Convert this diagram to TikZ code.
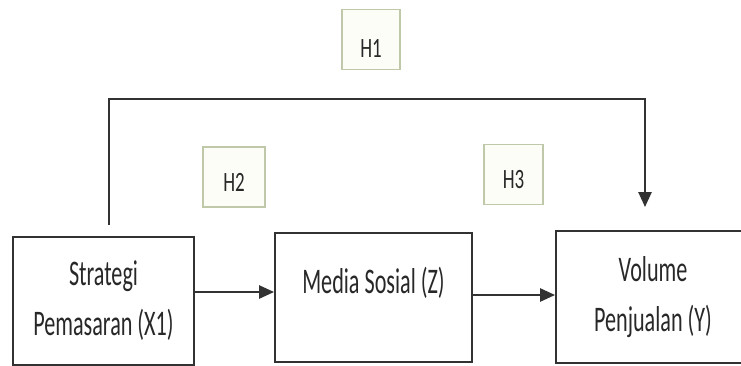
\documentclass[tikz,border=0pt]{standalone}
\usepackage{fontspec}
\usetikzlibrary{arrows.meta}
\newfontfamily\boxfont[FakeStretch=0.615]{Carlito}
\newfontfamily\hypfont[FakeStretch=0.68]{Carlito}
\definecolor{hypline}{RGB}{192,200,170}
\definecolor{hypfill}{RGB}{253,253,248}
\definecolor{inktext}{RGB}{40,40,40}
\definecolor{inkline}{RGB}{50,50,50}

\begin{document}
\begin{tikzpicture}[
    varbox/.style={draw=inkline, line width=1.1pt, minimum width=3.62cm, minimum height=2.56cm, align=center, text=inktext, font=\boxfont\fontsize{20.5}{28.5}\selectfont},
    hypbox/.style={draw=hypline, fill=hypfill, line width=0.8pt, minimum width=1.18cm, minimum height=1.2cm, inner sep=0pt, text=inktext, font=\hypfont\fontsize{15.9}{18}\selectfont},
    link/.style={draw=inkline, line width=1.1pt, -{Triangle[length=8.5pt, width=7.5pt]}}
]
    \useasboundingbox (0,0) rectangle (14.82,7.30);

    % Variables
    \node[varbox] (x1) at (2.07,1.28) {Strategi\\Pemasaran (X1)};
    \node[varbox, minimum width=3.94cm, minimum height=2.58cm, text depth=0.67cm] (z) at (7.47,1.35) {Media Sosial (Z)};
    \node[varbox, minimum width=3.88cm, minimum height=2.64cm] (y) at (13.06,1.36) {Volume\\Penjualan (Y)};

    % Hypotheses
    \node[hypbox, minimum width=1.16cm, text height=0.72cm, text depth=0pt] (h1) at (7.42,6.51) {H1};
    \node[hypbox, minimum width=1.24cm, text height=0.56cm, text depth=0pt] (h2) at (4.68,3.76) {H2};
    \node[hypbox, text height=0.56cm, text depth=0pt] (h3) at (10.27,3.81) {H3};

    % Paths
    \coordinate (x1top) at (2.18,2.80);
    \coordinate (corner) at (12.90,5.32);
    \coordinate (ytop) at (12.90,3.16);
    \draw[link] (x1top) |- (corner) -- (ytop);
    \draw[link] (x1.east |- 0,1.46) -- (z.west |- 0,1.46);
    \draw[link] (z.east |- 0,1.40) -- (y.west |- 0,1.40);
\end{tikzpicture}
\end{document}
